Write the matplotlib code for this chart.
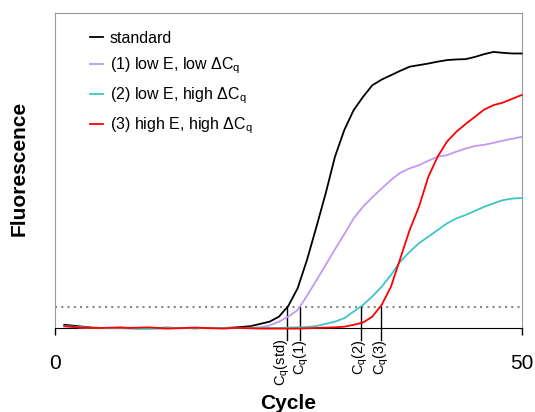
import numpy as np
import matplotlib
matplotlib.use("Agg")
import matplotlib.pyplot as plt

plt.rcParams['font.family'] = ['Liberation Sans', 'DejaVu Sans']

# qPCR amplification curves (cycles 1..50)
cycles = np.arange(1, 51)

standard = [0.010, 0.007, 0.004, 0.001, 0.000, 0.000, 0.001, 0.000, -0.001, 0.000,
            0.000, 0.001, 0.000, 0.000, -0.001, 0.000, 0.000, 0.000, 0.001, 0.003,
            0.006, 0.013, 0.020, 0.036, 0.070, 0.126, 0.216, 0.320, 0.427, 0.544,
            0.629, 0.692, 0.734, 0.771, 0.789, 0.803, 0.817, 0.830, 0.835, 0.840,
            0.846, 0.851, 0.853, 0.854, 0.861, 0.870, 0.877, 0.874, 0.872, 0.872]

low_e_low_dcq = [0.004, 0.003, 0.001, 0.000, 0.000, 0.000, 0.000, 0.001, 0.000, 0.000,
                 -0.001, 0.000, 0.000, 0.000, 0.001, 0.000, 0.000, 0.000, 0.000, 0.000,
                 0.001, 0.002, 0.008, 0.020, 0.036, 0.057, 0.102, 0.151, 0.200, 0.250,
                 0.298, 0.348, 0.385, 0.415, 0.443, 0.470, 0.493, 0.507, 0.517, 0.531,
                 0.544, 0.549, 0.560, 0.570, 0.578, 0.582, 0.588, 0.595, 0.601, 0.607]

low_e_high_dcq = [0.006, 0.004, 0.002, 0.000, 0.000, -0.001, 0.000, -0.002, -0.003, -0.003,
                  -0.002, 0.000, 0.000, 0.000, -0.001, 0.000, 0.000, 0.000, 0.000, 0.000,
                  0.000, 0.000, 0.000, 0.000, 0.001, 0.002, 0.003, 0.006, 0.013, 0.020,
                  0.031, 0.052, 0.073, 0.100, 0.131, 0.168, 0.211, 0.242, 0.269, 0.290,
                  0.311, 0.332, 0.348, 0.359, 0.372, 0.385, 0.396, 0.406, 0.411, 0.413]

high_e_high_dcq = [0.006, 0.003, 0.001, 0.000, 0.000, 0.001, 0.001, 0.000, 0.001, 0.002,
                   0.000, -0.002, -0.001, 0.000, 0.001, 0.000, -0.001, -0.002, 0.000, 0.000,
                   -0.001, -0.002, -0.002, -0.002, -0.002, -0.002, -0.001, 0.000, 0.001, 0.002,
                   0.004, 0.010, 0.017, 0.036, 0.073, 0.131, 0.221, 0.311, 0.385, 0.480,
                   0.544, 0.592, 0.623, 0.648, 0.671, 0.694, 0.708, 0.716, 0.728, 0.740]

labels = ["standard",
          r"(1) low E, low ΔC$_\mathregular{q}$",
          r"(2) low E, high ΔC$_\mathregular{q}$",
          r"(3) high E, high ΔC$_\mathregular{q}$"]
colors = ["black", "#c09af2", "#3cc6c6", "#ff0000"]

threshold = 0.067
cq_values = [24.9, 26.3, 32.8, 34.9]
cq_labels = [r"C$_\mathregular{q}$(std)", r"C$_\mathregular{q}$(1)",
             r"C$_\mathregular{q}$(2)", r"C$_\mathregular{q}$(3)"]

fig = plt.figure(figsize=(5.35, 4.12), dpi=100)
ax = fig.add_axes([0.1028, 0.204, 0.8722, 0.764])

for y, c, lab in zip([standard, low_e_low_dcq, low_e_high_dcq, high_e_high_dcq], colors, labels):
    ax.plot(cycles, y, color=c, lw=1.3, label=lab, clip_on=False, zorder=3)

ax.axhline(threshold, color="#888888", ls=(0, (1, 2)), lw=1.5, zorder=1)

# Cq markers below the threshold
for cq, lab, dx in zip(cq_values, cq_labels, [-0.55, 0.05, -0.15, 0.1]):
    ax.plot([cq, cq], [threshold, -0.038], color="black", lw=1, clip_on=False, zorder=2)
    ax.text(cq + dx, -0.036, lab, rotation=90, ha="center", va="top", fontsize=10.5)

ax.set_xlim(0, 50)
ax.set_ylim(0, 1)
ax.set_xticks([0, 50])
ax.set_yticks([])
ax.tick_params(axis="x", length=5, width=1, labelsize=15, pad=13.5)
for s in ["left", "right", "top"]:
    ax.spines[s].set_color("#999999")
ax.spines["bottom"].set_color("black")

fig.text(0.539, 0.008, "Cycle", fontsize=15, fontweight="bold", ha="center", va="baseline")
fig.text(0.036, 0.59, "Fluorescence", fontsize=15, fontweight="bold", rotation=90,
         ha="center", va="center")

ax.legend(loc="upper left", bbox_to_anchor=(0.045, 0.99), frameon=False,
          fontsize=11.5, handlelength=0.8, handletextpad=0.4, labelspacing=0.6)

fig.savefig("out.png", dpi=100)
